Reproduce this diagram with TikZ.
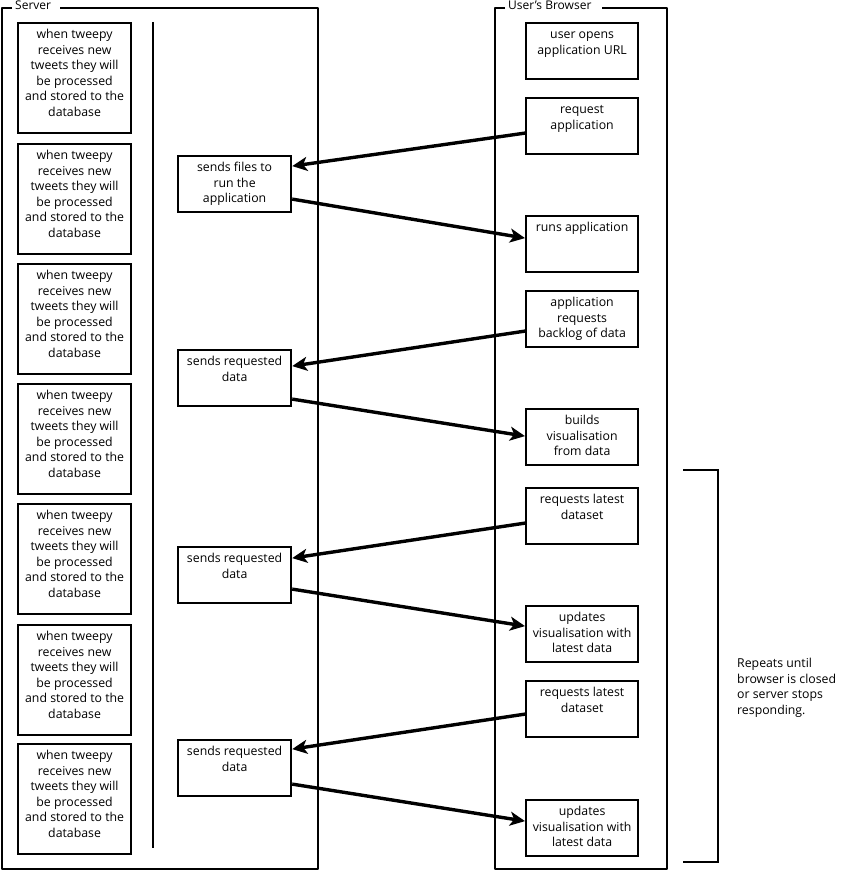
\documentclass[tikz,border=0pt]{standalone}
\usepackage{fontspec}
\setmainfont{Open Sans}
\usetikzlibrary{arrows.meta}
\newcommand{\bt}[3]{\parbox[c][#2][t]{#1}{\centering\rule{0pt}{15.5pt}#3}}
\tikzset{
  box/.style={draw, line width=2.2pt, inner sep=0pt, anchor=north west, fill=white,
    font=\fontsize{12.3}{15.5}\selectfont},
  frame/.style={line width=2.2pt, line join=round},
  title/.style={font=\fontsize{12}{13}\selectfont, inner sep=1pt, anchor=west},
  flow/.style={line width=3.4pt, -{Stealth[length=15pt,width=14pt,inset=4pt]}},
  thin/.style={line width=1.5pt}
}
\begin{document}
\begin{tikzpicture}[x=1pt,y=-1pt]
\useasboundingbox (0,0) rectangle (843,872);
% frames
\draw[frame] (12,8) -- (2,8) -- (2,869) -- (318,869) -- (318,8) -- (60,8);
\node[title] (tserver) at (14,5) {Server};
\draw[frame] (505,8) -- (495,8) -- (495,869) -- (667,869) -- (667,8) -- (602,8);
\node[title] (tbrowser) at (507,5) {User's Browser};
% inner vertical line
\coordinate (vtop) at (153,22);
\coordinate (vbot) at (153,848);
\draw[line width=2pt] (vtop) -- (vbot);
% left boxes
\foreach \i/\y in {1/22,2/143,3/263,4/383,5/503,6/624,7/743}{
  \node[box] (s\i) at (17,\y) {\bt{113pt}{110pt}{when tweepy\\receives new\\tweets they will\\be processed\\and stored to the\\database}};
}
% middle boxes
\node[box] (m1) at (177,155) {\bt{113pt}{56pt}{sends files to\\run the\\application}};
\node[box] (m2) at (177,349) {\bt{113pt}{56pt}{sends requested\\data}};
\node[box] (m3) at (177,546) {\bt{113pt}{56pt}{sends requested\\data}};
\node[box] (m4) at (177,739) {\bt{113pt}{56pt}{sends requested\\data}};
% browser boxes
\node[box] (b1) at (525,22) {\bt{112pt}{56pt}{user opens\\application URL}};
\node[box] (b2) at (525,97) {\bt{112pt}{56pt}{request\\application}};
\node[box] (b3) at (525,215) {\bt{112pt}{56pt}{runs application}};
\node[box] (b4) at (525,290) {\bt{112pt}{56pt}{application\\requests\\backlog of data}};
\node[box] (b5) at (525,408) {\bt{112pt}{56pt}{builds\\visualisation\\from data}};
\node[box] (b6) at (525,487) {\bt{112pt}{56pt}{requests latest\\dataset}};
\node[box] (b7) at (525,605) {\bt{112pt}{56pt}{updates\\visualisation with\\latest data}};
\node[box] (b8) at (525,680) {\bt{112pt}{56pt}{requests latest\\dataset}};
\node[box] (b9) at (525,799) {\bt{112pt}{56pt}{updates\\visualisation with\\latest data}};
% arrows
\draw[flow] ([yshift=-7pt]b2.west) -- ([yshift=18pt]m1.east);
\draw[flow] ([yshift=-15pt]m1.east) -- ([yshift=6pt]b3.west);
\draw[flow] ([yshift=-12pt]b4.west) -- ([yshift=12pt]m2.east);
\draw[flow] ([yshift=-21pt]m2.east) -- ([yshift=1pt]b5.west);
\draw[flow] ([yshift=-7pt]b6.west) -- ([yshift=17pt]m3.east);
\draw[flow] ([yshift=-14pt]m3.east) -- ([yshift=8pt]b7.west);
\draw[flow] ([yshift=-5pt]b8.west) -- ([yshift=19pt]m4.east);
\draw[flow] ([yshift=-16pt]m4.east) -- ([yshift=7pt]b9.west);
% bracket
\coordinate (bra1) at (683,470);
\coordinate (bra2) at (718,470);
\coordinate (bra3) at (718,862);
\coordinate (bra4) at (683,862);
\draw[thin] (bra1) -- (bra2) -- (bra3) -- (bra4);
\node[anchor=north west, inner sep=0pt, align=left, font=\fontsize{12.3}{15.5}\selectfont] (note) at (737,658)
  {Repeats until\\browser is closed\\or server stops\\responding.};
\end{tikzpicture}
\end{document}
